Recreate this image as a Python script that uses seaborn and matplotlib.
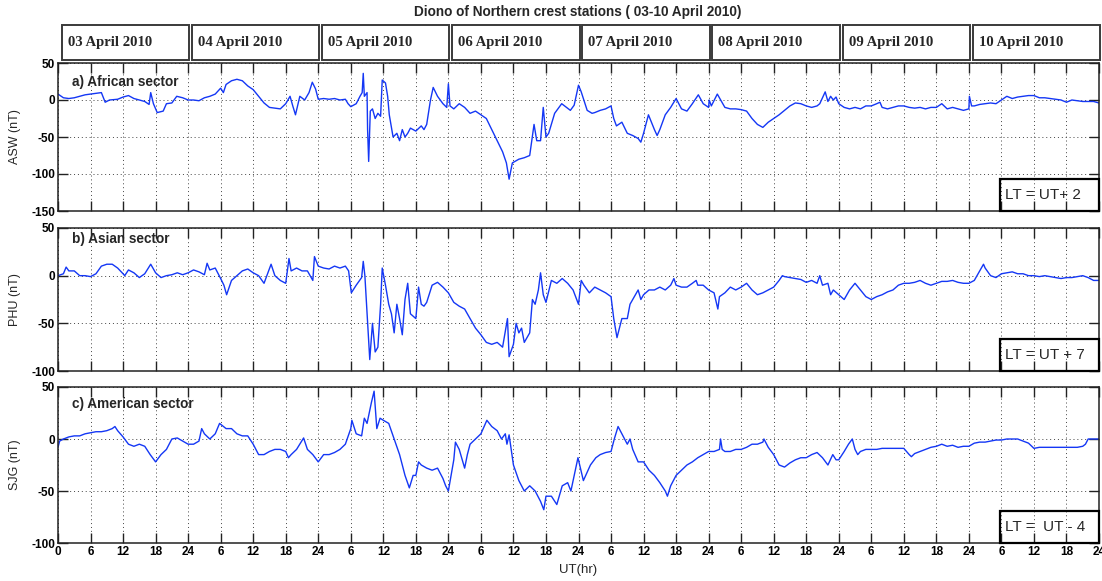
import numpy as np
import pandas as pd
import matplotlib
matplotlib.use("Agg")
import matplotlib.pyplot as plt
from matplotlib.patches import Rectangle
import seaborn as sns

# ---------------- data (hours since 03 April 2010 00 UT, nT) ----------------
days = ["03 April 2010", "04 April 2010", "05 April 2010", "06 April 2010",
        "07 April 2010", "08 April 2010", "09 April 2010", "10 April 2010"]

asw_pts = [
    (0, 8), (1, 3), (2, 2), (3, 3), (4, 5), (5, 7), (6, 8), (7, 9), (8, 10), (8.7, -3), (9.5, 0), (11, 1),
    (12, 4), (13, 6), (14, 2), (15, 0), (16, -2), (16.8, -6), (17.1, 10), (17.6, -5), (18.3, -17), (19.4, -15),
    (20, -5), (21, -4), (21.9, 5), (23, 3), (24, 0),
    (25, 0), (26, -1), (27, 3), (28, 5), (29, 8), (30, 16), (30.5, 10), (31, 21), (32, 26), (33, 28), (34, 26),
    (35, 19), (36, 14), (37, 5), (38, -4), (39, -10), (40, -11), (41, -12), (42, -5), (42.8, 5), (43.3, -8),
    (43.8, -20), (44.6, 5), (45.5, 0), (46.3, 10), (46.9, 24), (47.5, 15), (48, 1),
    (49, 2), (50, 1), (51, 2), (52, 0), (53, 1), (53.5, -5), (54, -9), (55, -5), (55.7, 5), (56.1, 10),
    (56.3, 36), (56.5, 5), (57.0, 10), (57.1, -40), (57.3, -83), (57.6, -15), (58.0, -12), (58.5, -25),
    (59.0, -18), (59.5, -22), (59.8, 27), (60.4, 23), (60.8, 5), (61.1, -20), (61.8, -50), (62.5, -45),
    (63, -55), (63.5, -40), (64, -50), (64.5, -45), (65, -38), (66, -42), (67, -35), (67.5, -40), (68, -33),
    (68.7, 0), (69.2, 17), (70, 5), (71, -5), (71.7, -10), (72, 22), (72.3, -8),
    (73, -12), (74, -5), (75, -10), (76, -18), (77, -15), (78, -20), (79, -25), (80, -40), (81, -55),
    (82, -70), (82.7, -85), (83.2, -107), (83.8, -85), (85, -80), (86, -78), (87, -75), (87.8, -33),
    (88.3, -55), (89, -55), (89.5, -10), (90, -50), (90.5, -45), (91.6, -18), (92.9, -5), (93.6, -9),
    (94.5, -14), (95.2, -7), (96, 20),
    (96.5, 11), (97.6, -14), (98.5, -18), (99, -17), (100, -14), (101, -12), (102, -8), (102.5, -25),
    (103, -35), (104, -30), (105, -45), (106, -48), (107, -52), (107.5, -57), (108, -45), (108.9, -20),
    (110, -40), (110.5, -48), (111, -40), (112, -20), (113, -10), (114, 2), (115, -12), (116, -15),
    (117, -5), (118.1, 7), (119, -5), (120, -10), (120.1, 0), (120.5, -8),
    (121.6, 8), (122.6, -5), (123, -10), (124, -12), (125, -12), (126, -13), (127, -15), (128, -25),
    (129, -33), (130, -37), (131, -30), (132, -25), (133, -20), (134, -14), (135, -8), (136, -4), (137, -5),
    (138, -8), (139, -10), (140, -8), (140.5, -5), (141.5, 11), (142, -2), (142.5, 5), (143, 0), (143.5, 4),
    (144, -5),
    (145, -10), (146, -12), (147, -10), (148, -12), (149, -8), (150, -8), (151, -5), (151.6, -3), (152, -10),
    (153, -12), (154, -10), (155, -8), (156, -8), (157, -10), (158, -11), (159, -10), (160, -12), (161, -10),
    (162, -10), (163, -5), (164, -12), (165, -10), (166, -12), (167, -14), (168, -12), (168.1, 5),
    (168.5, -8), (169, -8), (170, -6), (171, -5), (172, -4), (173, -5), (174, 0), (175, 5), (176, 2),
    (177, 4), (178, 5), (179, 6), (180, 6), (181, 3), (182, 3), (183, 2), (184, 1), (185, 0), (186, -3),
    (187, 0), (188, -1), (189, -2), (190, -2), (191, -2), (192, -4),
]

phu_pts = [
    (0, 0), (1, 2), (1.5, 9), (2, 5), (3, 5), (4, 0), (5, 0), (6, -1), (7, 2), (8, 10), (9, 12), (10, 12),
    (11, 8), (12, 2), (12.3, 0), (13, 6), (14, 3), (15, -2), (16, 2), (17.1, 12), (18, 3), (19, -2), (20, 0),
    (21, 1), (22, 3), (23, 1), (24, 3),
    (25, 6), (26, 4), (27, 1), (27.5, 13), (28, 6), (29, 8), (30, -3), (30.6, -10), (31.1, -20), (32, -5),
    (33, 0), (34, 5), (35, 7), (36, 3), (37, 0), (38, -8), (39.3, 12), (40, 0), (41, -5), (42, -8),
    (42.6, 18), (43, 5), (44, 8), (45, 5), (46, 5), (47, -5), (47.3, 20), (48, 10),
    (49, 8), (50, 7), (51, 10), (52, 8), (53, 10), (53.6, 5), (54.1, -18), (55, -10), (56, -2), (56.3, 15),
    (56.6, 0), (57.0, -40), (57.5, -88), (58.0, -50), (58.5, -80), (59.0, -75), (59.5, -30), (59.8, 8),
    (60.4, -10), (61, -30), (61.5, -40), (62, -60), (62.5, -30), (63, -45), (63.5, -62), (64, -25),
    (64.5, -8), (65, -40), (66, -45), (66.5, -12), (67, -30), (67.5, -32), (68, -28), (69, -10), (70, -7),
    (71, -12), (72, -18),
    (73, -28), (74, -32), (75, -35), (76, -45), (77, -55), (78, -62), (79, -70), (80, -72), (81, -70),
    (82, -75), (82.9, -45), (83.2, -85), (84, -72), (84.5, -50), (85, -60), (85.5, -55), (86, -70),
    (87, -60), (87.5, -25), (88, -30), (88.6, -15), (89.0, 3), (89.5, -20), (90, -28), (91, -5), (92, -8),
    (93, -3), (94, -8), (95, -15), (96, -30),
    (96.5, -5), (97, -10), (98, -18), (99, -12), (100, -15), (101, -18), (102, -22), (102.5, -45),
    (103.1, -65), (104, -45), (105, -45), (105.5, -30), (106, -25), (107, -15), (107.5, -25), (108, -20),
    (109, -15), (110, -15), (111, -12), (112, -15), (113, -10), (113.6, -3), (114, -10), (115, -12),
    (116, -12), (117, -8), (117.7, -5), (118, -10), (119, -10), (120, -15),
    (121, -18), (121.7, -35), (122, -22), (123, -18), (124, -12), (125, -15), (126, -12), (127, -8),
    (128, -15), (129, -20), (130, -18), (131, -15), (132, -12), (133, -5), (133.6, 0), (134, -1), (135, -2),
    (136, -3), (137, -4), (138, -7), (139, -5), (140, -8), (140.5, 0), (141, -10), (142, -8), (142.5, -20),
    (143, -15), (144, -20),
    (145, -25), (146, -15), (147, -8), (148, -15), (149, -22), (150, -25), (151, -22), (152, -20),
    (153, -17), (154, -15), (155, -10), (156, -8), (157, -8), (158, -7), (159, -5), (160, -8), (161, -10),
    (162, -8), (163, -6), (164, -6), (165, -5), (166, -7), (167, -8), (168, -8),
    (169, -5), (170, 5), (170.7, 12), (171, 8), (172, 0), (173, -2), (174, 2), (175, 3), (176, 4), (177, 2),
    (178, 2), (179, 0), (180, 0), (181, -1), (182, 0), (183, -1), (184, -2), (185, -3), (186, -2),
    (187, -2), (188, -1), (189, 0), (190, -2), (191, -5), (192, -5),
]

sjg_pts = [
    (0, -8), (0.3, -2), (1, 0), (2, 2), (3, 3), (4, 3), (5, 5), (6, 6), (7, 7), (8, 7), (9, 8), (10, 10),
    (10.5, 12), (11, 8), (12, 2), (13, -5), (14, -7), (15, -5), (16, -7), (17, -15), (18, -22), (19, -15),
    (20, -10), (21, 0), (22, 1), (23, -2), (24, -5),
    (25, -5), (26, -2), (26.5, 10), (27, 5), (28, 0), (29, 5), (29.8, 15), (31, 10), (32, 10), (33, 5),
    (34, 3), (35, 3), (36, -5), (37, -15), (38, -15), (39, -12), (40, -10), (41, -10), (42, -12),
    (42.5, -18), (43, -15), (44, -10), (45.3, 1), (46, -10), (47, -15), (48, -22),
    (49, -15), (50, -15), (51, -13), (52, -10), (53, -5), (54, 10), (54.2, 18), (55, 5), (56, 3),
    (56.5, 20), (57, 15), (57.8, 35), (58.3, 46), (58.8, 10), (59.4, 20), (60, 18), (61, 15), (62, 0),
    (63, -15), (64, -35), (64.8, -47), (65.5, -35), (66, -35), (66.5, -22), (67, -25), (68, -28), (69, -30),
    (70, -28), (71, -38), (71.5, -45), (72, -50), (72.5, -35),
    (73, -20), (73.3, -3), (74, -10), (75, -28), (75.5, -15), (76, -5), (77, 0), (78, 5), (79.1, 18),
    (80, 12), (81, 8), (81.8, 0), (82.5, 5), (82.8, -5), (83.2, 4), (84, -25), (85, -40), (86, -50),
    (87, -45), (88, -50), (89, -60), (89.6, -68), (90, -55), (91, -55), (92, -63), (93, -45), (94, -42),
    (94.6, -50), (95.6, -25), (95.9, -18),
    (96.9, -40), (98.2, -25), (99.2, -18), (100, -15), (101, -13), (102, -12), (102.6, 0), (103.3, 12),
    (104, 5), (105, -5), (105.5, 0), (106, -10), (107, -22), (108, -22), (109, -30), (110, -35), (111, -42),
    (112, -50), (112.4, -55), (113, -45), (114, -35), (115, -30), (116, -25), (117, -22), (118, -18),
    (119, -15), (120, -12),
    (121, -12), (122, -10), (122.2, 0), (122.5, -10), (123, -12), (124, -12), (125, -10), (126, -10),
    (127, -8), (128, -5), (129, -5), (130, -3), (130.2, 0), (131, -8), (132, -15), (133, -25), (134, -27),
    (135, -23), (136, -20), (137, -18), (138, -18), (139, -15), (140, -13), (141, -18), (142, -25),
    (142.9, -15), (143.5, -20), (144, -20),
    (145, -12), (145.8, -5), (146.5, 0), (147, -10), (147.5, -15), (148, -12), (149, -10), (150, -10),
    (151, -10), (152, -9), (153, -9), (154, -9), (155, -9), (156, -9), (157, -15), (157.4, -17), (158, -14),
    (159, -12), (160, -10), (161, -8), (162, -7), (163, -5), (164, -7), (165, -6), (166, -8), (167, -7),
    (168, -7),
    (169, -4), (170, -3), (171, -3), (172, -2), (173, -1), (174, -1), (175, 0), (176, 0), (177, 0),
    (178, -2), (179, -4), (180, -9), (181, -8), (182, -8), (183, -8), (184, -8), (185, -8), (186, -8),
    (187, -8), (188, -8), (189, -7), (189.5, -5), (190.0, 0), (191, 0), (192, 0),
]

panels = [
    dict(pts=asw_pts, ylabel="ASW (nT)", title="a) African sector", lt="LT = UT+ 2",
         ylim=(-150, 50), yticks=[-150, -100, -50, 0, 50], box=(63, 211), lab_y=0.87),
    dict(pts=phu_pts, ylabel="PHU (nT)", title="b) Asian sector", lt="LT = UT + 7",
         ylim=(-100, 50), yticks=[-100, -50, 0, 50], box=(228, 371), lab_y=0.925),
    dict(pts=sjg_pts, ylabel="SJG (nT)", title="c) American sector", lt="LT =  UT - 4",
         ylim=(-100, 50), yticks=[-100, -50, 0, 50], box=(387, 543), lab_y=0.89),
]

xticks = list(range(0, 193, 6))
xticklabels = ["0"] + [str(h % 24 if h % 24 else 24) for h in xticks[1:]]

# ---------------- figure ----------------
sns.set_style("ticks")
plt.rcParams["font.family"] = ["Liberation Sans", "DejaVu Sans"]

FW, FH = 1102, 581
fig = plt.figure(figsize=(FW / 100, FH / 100), dpi=100)
X0, X1 = 58, 1099
left = X0 / FW
width = (X1 - X0) / FW
line_color = "#1437f5"

for i, p in enumerate(panels):
    top, bot = p["box"]
    ax = fig.add_axes([left, 1 - bot / FH, width, (bot - top) / FH])
    t, v = zip(*p["pts"])
    df = pd.DataFrame({"UT": t, "val": v})
    sns.lineplot(data=df, x="UT", y="val", ax=ax, color=line_color, linewidth=1.0,
                 sort=False, estimator=None, legend=False)
    ax.set_xlim(0, 192)
    ax.set_ylim(*p["ylim"])
    ax.set_xticks(xticks)
    ax.set_yticks(p["yticks"], [str(y) for y in p["yticks"]], fontsize=8.5, fontweight="bold")
    if i == 2:
        ax.set_xticklabels(xticklabels, fontsize=8.5, fontweight="bold")
    else:
        ax.set_xticklabels([])
    ax.grid(True, linestyle=(0, (1, 3)), color="#444444", linewidth=0.7)
    ax.tick_params(direction="in", length=7, width=1, top=True, right=True, colors="#222222",
                   labelcolor="black", pad=2)
    for s in ax.spines.values():
        s.set_linewidth(1.1)
        s.set_color("#222222")
    ax.set_xlabel("")
    ax.set_ylabel(p["ylabel"], fontsize=9)
    ax.yaxis.set_label_coords(-0.036, 0.5)
    ax.text(0.013, p["lab_y"], p["title"], transform=ax.transAxes, fontsize=9.8,
            fontweight="bold", va="center", ha="left")
    bh = 32 / (bot - top)
    ax.add_patch(Rectangle((0.905, 0.0), 0.095, bh, transform=ax.transAxes, fill=False,
                           edgecolor="black", linewidth=1.6, clip_on=False, zorder=5))
    ax.text(0.910, bh / 2, p["lt"], transform=ax.transAxes, fontsize=11, va="center",
            ha="left", zorder=6)

# date header boxes
hax = fig.add_axes([left, 1 - 60 / FH, width, 35 / FH])
hax.set_xlim(0, 192)
hax.set_ylim(0, 1)
hax.axis("off")
for d, name in enumerate(days):
    hax.add_patch(Rectangle((24 * d + 0.7, 0.0), 23.5, 1.0, fill=False,
                            edgecolor="#3a3a3a", linewidth=1.4, clip_on=False))
    hax.text(24 * d + 1.8, 0.5, name, fontsize=10.6, fontweight="bold",
             family=["Liberation Serif", "DejaVu Serif"], va="center", ha="left")

fig.text(578 / FW, 1 - 12 / FH, "Diono of Northern crest stations ( 03-10 April 2010)",
         ha="center", va="center", fontsize=9.8, fontweight="bold")
fig.text(578 / FW, 1 - 570 / FH, "UT(hr)", ha="center", va="center", fontsize=9.5)

fig.savefig("out.png", dpi=100)
